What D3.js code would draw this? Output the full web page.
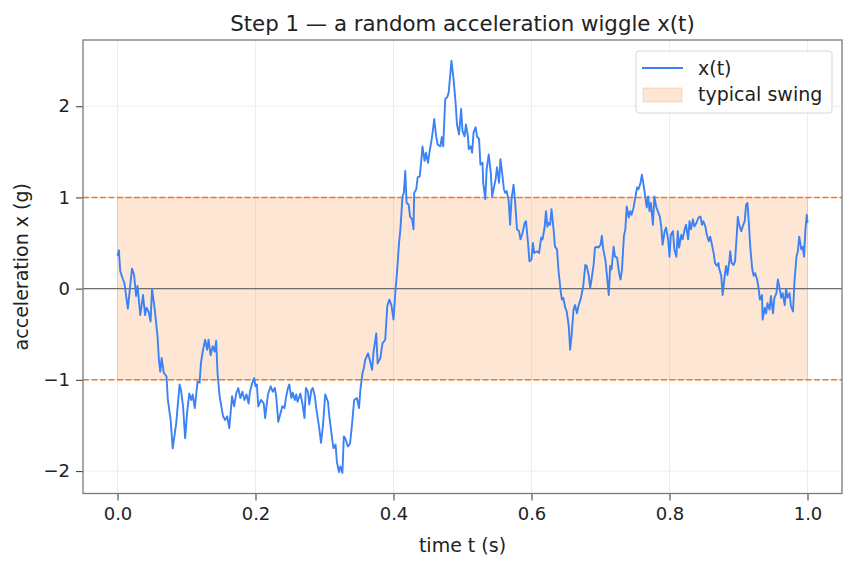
<!DOCTYPE html>
<html>
<head>
<meta charset="utf-8">
<style>
  body { margin: 0; background: #fff; }
  text { font-family: "DejaVu Sans", sans-serif; fill: #222; }
</style>
</head>
<body>
<script src="https://d3js.org/d3.v7.min.js"></script>
<script>
// time samples (s)
var tValues = [
  0.000,0.002,0.004,0.008,0.010,0.015,0.021,0.024,0.027,0.029,0.033,0.037,0.040,0.042,0.045,0.048,0.050,0.054,0.058,0.060,
  0.062,0.064,0.067,0.071,0.073,0.077,0.080,0.085,0.090,0.092,0.095,0.098,0.101,0.104,0.107,0.109,0.112,0.116,0.119,0.121,
  0.124,0.127,0.130,0.132,0.135,0.138,0.141,0.143,0.145,0.148,0.153,0.156,0.159,0.162,0.166,0.169,0.172,0.175,0.178,0.181,
  0.184,0.187,0.190,0.192,0.195,0.198,0.200,0.202,0.204,0.208,0.212,0.214,0.218,0.222,0.225,0.228,0.230,0.233,0.239,0.242,
  0.244,0.247,0.249,0.252,0.254,0.257,0.259,0.261,0.265,0.268,0.271,0.273,0.276,0.278,0.281,0.283,0.286,0.288,0.292,0.295,
  0.298,0.301,0.305,0.307,0.311,0.313,0.316,0.318,0.321,0.323,0.326,0.328,0.330,0.334,0.337,0.340,0.343,0.347,0.350,0.352,
  0.355,0.357,0.359,0.363,0.365,0.369,0.371,0.375,0.377,0.381,0.384,0.388,0.391,0.394,0.397,0.400,0.403,0.405,0.408,0.410,
  0.413,0.415,0.417,0.419,0.422,0.424,0.427,0.429,0.430,0.433,0.435,0.438,0.440,0.442,0.445,0.447,0.450,0.452,0.455,0.457,
  0.459,0.462,0.464,0.468,0.470,0.472,0.475,0.478,0.480,0.484,0.487,0.490,0.492,0.495,0.498,0.500,0.503,0.505,0.508,0.509,
  0.512,0.514,0.516,0.519,0.521,0.524,0.526,0.529,0.530,0.533,0.535,0.538,0.541,0.543,0.545,0.548,0.550,0.553,0.555,0.558,
  0.560,0.562,0.564,0.567,0.569,0.571,0.574,0.576,0.579,0.582,0.584,0.587,0.590,0.592,0.595,0.597,0.600,0.602,0.604,0.608,
  0.611,0.614,0.616,0.619,0.621,0.623,0.625,0.627,0.629,0.632,0.634,0.637,0.639,0.642,0.644,0.646,0.649,0.651,0.654,0.656,
  0.658,0.661,0.663,0.666,0.668,0.671,0.673,0.675,0.678,0.680,0.683,0.685,0.687,0.690,0.692,0.695,0.697,0.700,0.702,0.704,
  0.707,0.709,0.712,0.714,0.716,0.719,0.721,0.724,0.727,0.729,0.731,0.734,0.736,0.738,0.741,0.743,0.745,0.748,0.750,0.753,
  0.755,0.758,0.760,0.762,0.765,0.767,0.769,0.771,0.773,0.776,0.778,0.781,0.783,0.786,0.788,0.790,0.793,0.795,0.798,0.800,
  0.802,0.805,0.807,0.810,0.812,0.814,0.817,0.819,0.822,0.824,0.827,0.829,0.831,0.834,0.836,0.839,0.842,0.845,0.847,0.849,
  0.852,0.854,0.857,0.859,0.861,0.864,0.866,0.869,0.871,0.872,0.875,0.877,0.880,0.882,0.884,0.887,0.888,0.890,0.893,0.895,
  0.898,0.899,0.901,0.904,0.906,0.909,0.911,0.913,0.915,0.917,0.920,0.922,0.924,0.927,0.929,0.931,0.934,0.935,0.938,0.940,
  0.942,0.945,0.947,0.950,0.952,0.955,0.957,0.959,0.962,0.964,0.967,0.969,0.971,0.974,0.976,0.979,0.981,0.984,0.986,0.988,
  0.991,0.993,0.995,0.997,0.999,1.000
];

// acceleration x(t) in g
var xValues = [
  0.36,0.42,0.19,0.10,0.06,-0.22,0.22,0.15,-0.08,0.03,-0.29,-0.07,-0.29,-0.21,-0.25,-0.36,0.00,-0.23,-0.52,-0.78,
  -0.91,-0.76,-0.92,-0.96,-1.22,-1.44,-1.75,-1.48,-1.05,-1.11,-1.29,-1.64,-1.35,-1.15,-1.22,-1.16,-1.31,-1.02,-1.03,-0.81,
  -0.67,-0.56,-0.67,-0.56,-0.73,-0.63,-0.69,-0.57,-0.93,-1.18,-1.40,-1.44,-1.40,-1.53,-1.18,-1.29,-1.15,-1.09,-1.20,-1.13,
  -1.22,-1.16,-1.26,-1.13,-1.04,-0.98,-1.07,-1.05,-1.29,-1.22,-1.26,-1.42,-1.16,-1.07,-1.13,-1.09,-1.18,-1.46,-1.29,-1.31,
  -1.20,-1.09,-1.05,-1.20,-1.14,-1.22,-1.16,-1.24,-1.15,-1.26,-1.42,-1.09,-1.13,-1.27,-1.11,-1.09,-1.18,-1.31,-1.51,-1.69,
  -1.48,-1.16,-1.24,-1.40,-1.64,-1.75,-1.71,-1.90,-2.01,-1.95,-2.02,-1.62,-1.64,-1.73,-1.70,-1.48,-1.22,-1.20,-1.31,-1.11,
  -0.93,-0.87,-0.78,-0.71,-0.76,-0.89,-0.70,-0.49,-0.82,-0.76,-0.60,-0.56,-0.19,-0.12,-0.18,-0.34,-0.01,0.17,0.50,0.65,
  1.01,1.05,1.29,0.94,0.92,0.79,0.76,0.65,1.05,1.09,1.22,1.23,1.38,1.56,1.40,1.49,1.38,1.49,1.62,1.73,
  1.86,1.66,1.58,1.56,1.66,1.56,2.08,2.10,2.15,2.50,2.30,2.04,1.80,1.69,1.97,1.73,1.67,1.80,1.66,1.53,
  1.56,1.49,1.71,1.77,1.67,1.64,1.36,1.38,1.16,0.98,1.31,1.47,1.27,1.01,1.09,1.20,1.33,1.16,1.42,1.23,
  1.09,1.05,1.07,0.96,0.70,0.98,1.14,0.98,0.65,0.63,0.54,0.61,0.72,0.74,0.50,0.30,0.32,0.50,0.39,0.41,
  0.39,0.56,0.54,0.67,0.85,0.68,0.72,0.70,0.87,0.65,0.46,0.43,0.21,-0.01,-0.12,-0.10,-0.21,-0.25,-0.41,-0.67,
  -0.52,-0.23,-0.18,-0.27,-0.19,-0.12,-0.05,0.03,0.26,0.25,0.14,0.01,0.10,0.26,0.45,0.46,0.45,0.48,0.58,0.43,
  0.32,0.17,-0.07,0.25,0.21,0.46,0.35,0.34,0.17,0.10,0.20,0.58,0.65,0.90,0.78,0.85,0.81,0.89,0.98,1.11,
  1.09,1.16,1.25,1.16,1.00,0.89,1.01,0.85,0.94,0.70,1.01,0.89,0.85,0.79,0.68,0.48,0.63,0.67,0.54,0.35,
  0.59,0.63,0.43,0.35,0.63,0.45,0.59,0.54,0.65,0.70,0.54,0.74,0.65,0.76,0.68,0.72,0.78,0.79,0.70,0.74,
  0.68,0.59,0.52,0.57,0.50,0.39,0.28,0.25,0.28,0.22,0.14,-0.07,0.14,0.25,0.15,0.32,0.41,0.28,0.26,0.30,
  0.65,0.79,0.70,0.63,0.68,0.74,0.92,0.94,0.72,0.46,0.21,0.14,0.17,0.10,0.01,-0.12,-0.07,-0.34,-0.21,-0.27,
  -0.16,-0.23,-0.08,-0.27,-0.10,-0.05,0.10,0.03,-0.10,-0.05,-0.18,0.00,-0.10,-0.05,-0.19,-0.25,0.06,0.35,0.41,0.57,
  0.43,0.46,0.35,0.65,0.81,0.72
];

var xTicks = [0.0, 0.2, 0.4, 0.6, 0.8, 1.0];
var yTicks = [-2, -1, 0, 1, 2];
var swingBand = [-1, 1];
var bandSpan = [0, 1];

var width = 856, height = 567;
// plot box (note: "top" is reserved on window, so use plot* names)
var plotL = 83, plotR = 842, plotT = 40, plotB = 493.5;

var data = tValues.map(function(t, i) { return { t: t, x: xValues[i] }; });

var svg = d3.select('body').append('svg')
  .attr('width', width)
  .attr('height', height);

// matplotlib style 5% margins
var xExt = d3.extent(tValues), yExt = d3.extent(xValues);
var xPad = (xExt[1] - xExt[0]) * 0.05, yPad = (yExt[1] - yExt[0]) * 0.05;

var xScale = d3.scaleLinear().domain([xExt[0] - xPad, xExt[1] + xPad]).range([plotL, plotR]);
var yScale = d3.scaleLinear().domain([yExt[0] - yPad, yExt[1] + yPad]).range([plotB, plotT]);

// grid
var grid = svg.append('g');
grid.selectAll('.gx').data(xTicks).enter().append('line')
  .attr('x1', function(d) { return xScale(d); }).attr('x2', function(d) { return xScale(d); })
  .attr('y1', plotT).attr('y2', plotB)
  .attr('stroke', '#e8e8e8').attr('stroke-width', 0.8);
grid.selectAll('.gy').data(yTicks).enter().append('line')
  .attr('y1', function(d) { return yScale(d); }).attr('y2', function(d) { return yScale(d); })
  .attr('x1', plotL).attr('x2', plotR)
  .attr('stroke', '#e8e8e8').attr('stroke-width', 0.8);

// typical swing band
svg.append('rect')
  .attr('x', xScale(bandSpan[0]))
  .attr('y', yScale(swingBand[1]))
  .attr('width', xScale(bandSpan[1]) - xScale(bandSpan[0]))
  .attr('height', yScale(swingBand[0]) - yScale(swingBand[1]))
  .attr('fill', '#f97316').attr('fill-opacity', 0.18)
  .attr('stroke', '#f97316').attr('stroke-opacity', 0.22).attr('stroke-width', 1);

// dashed band edges
svg.selectAll('.edge').data(swingBand).enter().append('line')
  .attr('x1', plotL).attr('x2', plotR)
  .attr('y1', function(d) { return yScale(d); }).attr('y2', function(d) { return yScale(d); })
  .attr('stroke', '#f47a20').attr('stroke-width', 1.5)
  .attr('stroke-dasharray', '6,2.5');

// zero line
svg.append('line')
  .attr('x1', plotL).attr('x2', plotR)
  .attr('y1', yScale(0)).attr('y2', yScale(0))
  .attr('stroke', '#6e6e6e').attr('stroke-width', 1.3);

// the signal
var line = d3.line().x(function(d) { return xScale(d.t); }).y(function(d) { return yScale(d.x); });
svg.append('path').datum(data)
  .attr('d', line)
  .attr('fill', 'none')
  .attr('stroke', '#3b82f6')
  .attr('stroke-width', 1.9)
  .attr('stroke-linejoin', 'round');

// axes
var xAxis = d3.axisBottom(xScale).tickValues(xTicks).tickFormat(d3.format('.1f')).tickSize(7).tickPadding(7);
var yAxis = d3.axisLeft(yScale).tickValues(yTicks)
  .tickFormat(function(d) { return d < 0 ? '\u2212' + Math.abs(d) : d; })
  .tickSize(7).tickPadding(6);

var gx = svg.append('g').attr('transform', 'translate(0,' + plotB + ')').call(xAxis);
var gy = svg.append('g').attr('transform', 'translate(' + plotL + ',0)').call(yAxis);
[gx, gy].forEach(function(g) {
  g.select('.domain').remove();
  g.selectAll('.tick line').attr('stroke', '#444').attr('stroke-width', 1.1);
  g.selectAll('.tick text')
    .style('font-family', '"DejaVu Sans", sans-serif')
    .style('font-size', '18px')
    .attr('fill', '#222');
});

// frame
svg.append('rect')
  .attr('x', plotL).attr('y', plotT)
  .attr('width', plotR - plotL).attr('height', plotB - plotT)
  .attr('fill', 'none').attr('stroke', '#7a7a7a').attr('stroke-width', 1.3);

// title and labels
svg.append('text')
  .attr('x', (plotL + plotR) / 2).attr('y', 31)
  .attr('text-anchor', 'middle')
  .style('font-size', '21.3px')
  .text('Step 1 \u2014 a random acceleration wiggle x(t)');

svg.append('text')
  .attr('x', (plotL + plotR) / 2).attr('y', 552)
  .attr('text-anchor', 'middle')
  .style('font-size', '19px')
  .text('time t (s)');

svg.append('text')
  .attr('transform', 'translate(28,' + (plotT + plotB) / 2 + ') rotate(-90)')
  .attr('text-anchor', 'middle')
  .style('font-size', '19px')
  .text('acceleration x (g)');

// legend
var lg = svg.append('g').attr('transform', 'translate(636,51)');
lg.append('rect')
  .attr('width', 196).attr('height', 62).attr('rx', 3)
  .attr('fill', '#fff').attr('fill-opacity', 0.85)
  .attr('stroke', '#d6d6d6');
lg.append('line')
  .attr('x1', 6).attr('x2', 47).attr('y1', 17).attr('y2', 17)
  .attr('stroke', '#3b82f6').attr('stroke-width', 1.9);
lg.append('rect')
  .attr('x', 7).attr('y', 37).attr('width', 39).attr('height', 14)
  .attr('fill', '#f97316').attr('fill-opacity', 0.18)
  .attr('stroke', '#f97316').attr('stroke-opacity', 0.22);
lg.append('text').attr('x', 62).attr('y', 24).style('font-size', '19px').text('x(t)');
lg.append('text').attr('x', 62).attr('y', 50).style('font-size', '19px').text('typical swing');
</script>
</body>
</html>
